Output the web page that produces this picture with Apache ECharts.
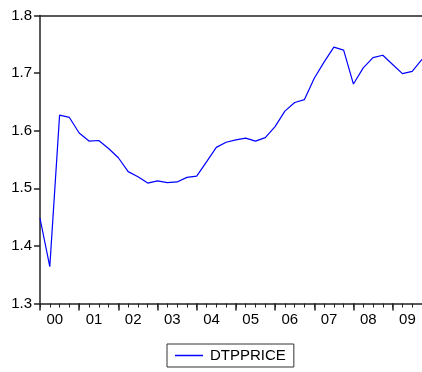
<!DOCTYPE html>
<html>
<head>
<meta charset="utf-8">
<script src="https://cdn.jsdelivr.net/npm/echarts@6/dist/echarts.min.js"></script>
<style>
html,body{margin:0;padding:0;background:#fff;}
#c{width:422px;height:372px;}
</style>
</head>
<body>
<div id="c"></div>
<script>
const quarters = [];
for (let y = 2000; y <= 2009; y++) { for (let q = 1; q <= 4; q++) quarters.push(y + 'Q' + q); }
const seriesName = 'DTPPRICE';
const dtpprice = [
  1.448, 1.364, 1.627, 1.623,
  1.596, 1.582, 1.583, 1.569,
  1.553, 1.529, 1.520, 1.509,
  1.513, 1.510, 1.511, 1.519,
  1.521, 1.546, 1.571, 1.580,
  1.584, 1.587, 1.582, 1.588,
  1.607, 1.634, 1.649, 1.654,
  1.691, 1.719, 1.745, 1.740,
  1.681, 1.709, 1.727, 1.731,
  1.715, 1.699, 1.703, 1.724
];
const yMin = 1.3, yMax = 1.8, yStep = 0.1;

const font = 'Liberation Sans, Arial, sans-serif';
const chart = echarts.init(document.getElementById('c'), null, {renderer: 'canvas'});
chart.setOption({
  animation: false,
  backgroundColor: '#fff',
  grid: {left: 40, top: 15.5, width: 382, height: 288, containLabel: false},
  legend: {
    data: [{name: seriesName, icon: 'rect', itemStyle: {color: '#0000ff', borderWidth: 0, opacity: 1}}],
    top: 344, left: 167,
    borderColor: '#333', borderWidth: 1, borderRadius: 0,
    padding: [4, 8, 4, 8],
    itemWidth: 28, itemHeight: 1.5, itemGap: 6,
    textStyle: {fontFamily: font, fontSize: 15, color: '#000', padding: [0, 0, 0, 2]}
  },
  xAxis: [
    {
      type: 'category', data: quarters, boundaryGap: false, position: 'bottom',
      axisLine: {show: true, lineStyle: {color: '#222', width: 1.5}},
      axisTick: {show: true, length: 7, interval: (i) => i % 4 === 0, lineStyle: {color: '#222', width: 1.5}},
      axisLabel: {
        interval: (i) => i % 4 === 1,
        formatter: (v) => v.slice(2, 4),
        fontFamily: font, fontSize: 15, color: '#000', margin: 9,
        padding: [0, 0, 0, 10]
      },
      splitLine: {show: false}
    },
    {
      type: 'category', data: quarters, boundaryGap: false, position: 'bottom',
      axisLine: {show: false},
      axisTick: {show: true, length: 4, interval: 0, lineStyle: {color: '#222', width: 1}},
      axisLabel: {show: false},
      splitLine: {show: false}
    },
    {
      type: 'category', data: quarters, boundaryGap: false, position: 'top',
      axisLine: {show: true, lineStyle: {color: '#222', width: 1.5}},
      axisTick: {show: false},
      axisLabel: {show: false},
      splitLine: {show: false}
    }
  ],
  yAxis: {
    type: 'value', min: yMin, max: yMax, interval: yStep,
    axisLine: {show: true, lineStyle: {color: '#222', width: 1.5}},
    axisTick: {show: true, length: 6, lineStyle: {color: '#222', width: 1.5}},
    axisLabel: {fontFamily: font, fontSize: 15, color: '#000', margin: 8, formatter: (v) => v.toFixed(1)},
    splitLine: {show: false}
  },
  series: [{
    name: seriesName, type: 'line', data: dtpprice,
    xAxisIndex: 0, symbol: 'none', showSymbol: false,
    lineStyle: {color: '#0000ff', width: 1.2},
    itemStyle: {color: '#0000ff'}
  }]
});
</script>
</body>
</html>
